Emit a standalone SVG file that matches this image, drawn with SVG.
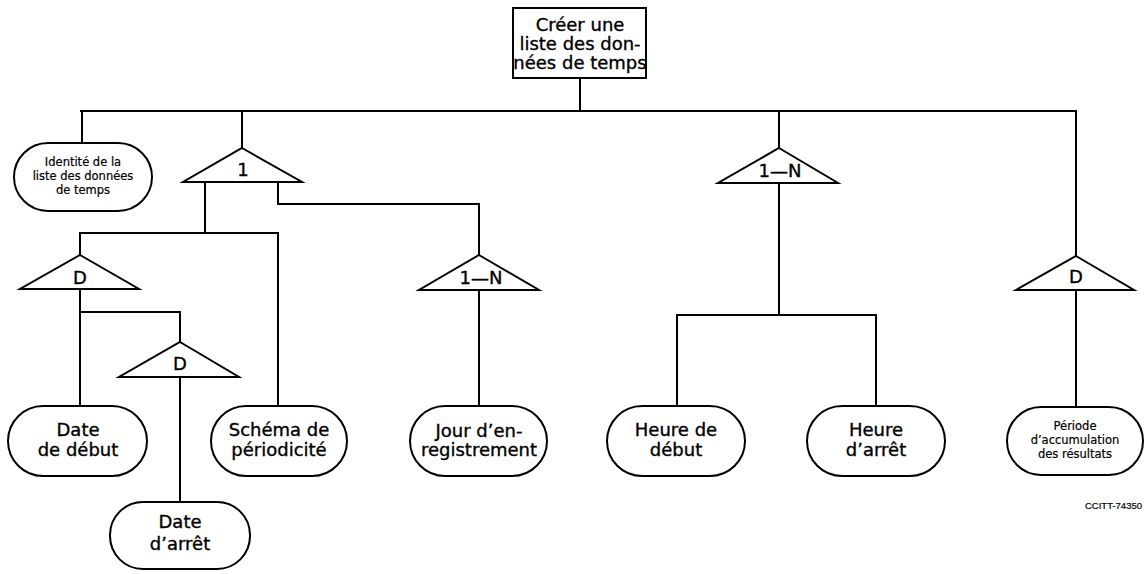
<svg xmlns="http://www.w3.org/2000/svg" width="1147" height="574" viewBox="0 0 1147 574">
  <style>
    .ln { fill: none; stroke: #000; stroke-width: 2; stroke-linejoin: miter; stroke-linecap: square; }
    .box { fill: #fff; stroke: #000; stroke-width: 2; }
    .tri { fill: #fff; stroke: #000; stroke-width: 2; stroke-linejoin: miter; }
    .t { font-family: "DejaVu Sans", "Liberation Sans", sans-serif; fill: #000; text-anchor: middle; stroke: #000; stroke-width: 0.35; }
    .big { font-size: 18px; }
    .sm { font-size: 11.5px; stroke-width: 0.2; }
    .op { font-size: 18px; }
    .ref { font-family: "Liberation Sans", "DejaVu Sans", sans-serif; font-size: 9.5px; fill: #000; text-anchor: end; stroke: #000; stroke-width: 0.2; }
  </style>
  <rect width="1147" height="574" fill="#fff"/>

  <!-- connectors -->
  <g id="connectors" class="ln">
    <path d="M580,78 V111"/>
    <path d="M81,111 H1076"/>
    <path d="M82,111 V143"/>
    <path d="M242,111 V148"/>
    <path d="M779,111 V148"/>
    <path d="M1076,111 V256"/>
    <!-- under selection 1 -->
    <path d="M205,182 V233"/>
    <path d="M80,233 H278"/>
    <path d="M80,233 V255"/>
    <path d="M278,233 V406"/>
    <path d="M278,182 V204 H479 V255"/>
    <!-- date branches -->
    <path d="M80,289 V406"/>
    <path d="M80,312 H180 V342"/>
    <path d="M180,377 V502"/>
    <!-- jour -->
    <path d="M479,290 V406"/>
    <!-- heures -->
    <path d="M779,183 V315"/>
    <path d="M677,315 H876"/>
    <path d="M677,315 V406"/>
    <path d="M876,315 V406"/>
    <!-- période -->
    <path d="M1076,290 V407"/>
  </g>

  <!-- root -->
  <g id="root">
    <rect class="box" x="513" y="8" width="133" height="70"/>
    <text class="t big" x="580" y="31">Créer une</text>
    <text class="t big" x="580" y="50">liste des don-</text>
    <text class="t big" x="580" y="69">nées de temps</text>
  </g>

  <!-- selection operators -->
  <g id="op-1">
    <polygon class="tri" points="242,148 302,182 183,182"/>
    <text class="t op" x="243" y="176">1</text>
  </g>
  <g id="op-d1">
    <polygon class="tri" points="80,255 139,289 20,289"/>
    <text class="t op" x="80" y="284">D</text>
  </g>
  <g id="op-d2">
    <polygon class="tri" points="180,342 239,377 119,377"/>
    <text class="t op" x="180" y="370">D</text>
  </g>
  <g id="op-jour">
    <polygon class="tri" points="479,255 539,290 419,290"/>
    <text class="t op" x="481" y="284">1—N</text>
  </g>
  <g id="op-heure">
    <polygon class="tri" points="779,148 838,183 718,183"/>
    <text class="t op" x="780" y="177">1—N</text>
  </g>
  <g id="op-d3">
    <polygon class="tri" points="1076,256 1134,290 1016,290"/>
    <text class="t op" x="1076" y="283">D</text>
  </g>

  <!-- leaf nodes -->
  <g id="identite">
    <rect class="box" x="14" y="143" width="138" height="68" rx="34" ry="34"/>
    <text class="t sm" x="83" y="166">Identité de la</text>
    <text class="t sm" x="83" y="180">liste des données</text>
    <text class="t sm" x="83" y="194">de temps</text>
  </g>
  <g id="date-debut">
    <rect class="box" x="8" y="406" width="139" height="70" rx="35" ry="35"/>
    <text class="t big" x="78" y="436">Date</text>
    <text class="t big" x="78" y="456">de début</text>
  </g>
  <g id="schema">
    <rect class="box" x="211" y="406" width="136" height="70" rx="35" ry="35"/>
    <text class="t big" x="279" y="436">Schéma de</text>
    <text class="t big" x="279" y="456">périodicité</text>
  </g>
  <g id="date-arret">
    <rect class="box" x="110" y="502" width="140" height="67" rx="33" ry="33"/>
    <text class="t big" x="180" y="528">Date</text>
    <text class="t big" x="180" y="550">d’arrêt</text>
  </g>
  <g id="jour">
    <rect class="box" x="410" y="406" width="137" height="70" rx="35" ry="35"/>
    <text class="t big" x="479" y="437">Jour d’en-</text>
    <text class="t big" x="479" y="456">registrement</text>
  </g>
  <g id="heure-debut">
    <rect class="box" x="607" y="406" width="138" height="70" rx="35" ry="35"/>
    <text class="t big" x="676" y="436">Heure de</text>
    <text class="t big" x="676" y="456">début</text>
  </g>
  <g id="heure-arret">
    <rect class="box" x="807" y="406" width="138" height="70" rx="35" ry="35"/>
    <text class="t big" x="876" y="436">Heure</text>
    <text class="t big" x="876" y="456">d’arrêt</text>
  </g>
  <g id="periode">
    <rect class="box" x="1007" y="407" width="136" height="68" rx="34" ry="34"/>
    <text class="t sm" x="1075" y="430">Période</text>
    <text class="t sm" x="1075" y="444">d’accumulation</text>
    <text class="t sm" x="1075" y="458">des résultats</text>
  </g>

  <text class="ref" x="1142" y="509">CCITT-74350</text>
</svg>
